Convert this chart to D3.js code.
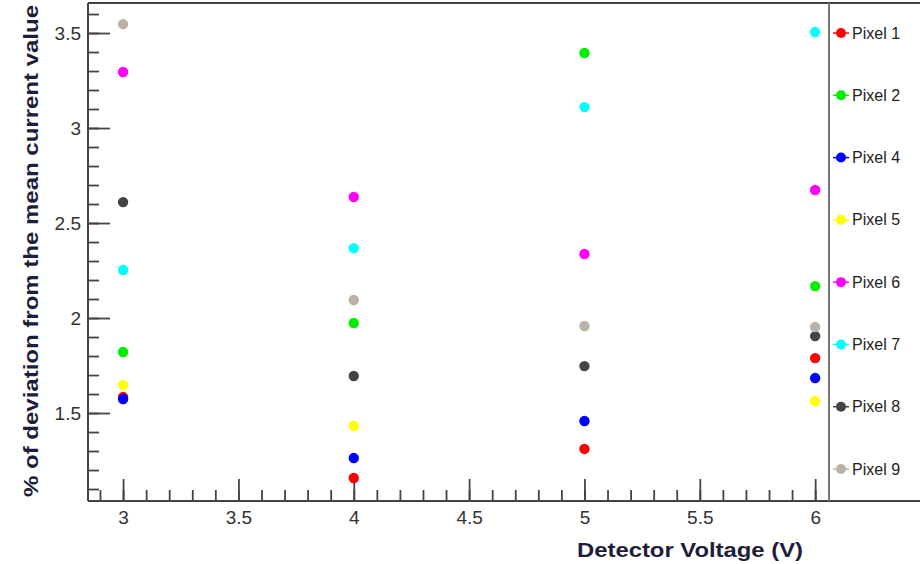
<!DOCTYPE html>
<html>
<head>
<meta charset="utf-8">
<script src="https://cdn.jsdelivr.net/npm/d3@7"></script>
<style>
  html, body { margin: 0; padding: 0; background: #fff; }
  svg { display: block; font-family: "Liberation Sans", Arial, sans-serif; }
</style>
</head>
<body>
<svg id="chart" width="920" height="564"></svg>
<script>
// Detector voltages (V) at which each pixel was measured
const voltages = [3, 4, 5, 6];

// Pixel names, in legend order
const pixels = ["Pixel 1", "Pixel 2", "Pixel 4", "Pixel 5", "Pixel 6", "Pixel 7", "Pixel 8", "Pixel 9"];

// % deviation from the mean current, one value per voltage (null = no point)
const pixel1 = [1.584, 1.158, 1.311, 1.789];
const pixel2 = [1.821, 1.974, 3.395, 2.168];
const pixel4 = [1.574, 1.263, 1.458, 1.684];
const pixel5 = [1.647, 1.432, null, 1.563];
const pixel6 = [3.295, 2.637, 2.337, 2.674];
const pixel7 = [2.253, 2.368, 3.110, 3.505];
const pixel8 = [2.610, 1.695, 1.747, 1.905];
const pixel9 = [3.547, 2.095, 1.958, 1.953];

const seriesValues = [pixel1, pixel2, pixel4, pixel5, pixel6, pixel7, pixel8, pixel9];
const seriesColors = ["#ff0000", "#00ee00", "#0000ff", "#ffff00", "#ff00ff", "#00ffff", "#444444", "#bcb1a6"];

// Axis ticks
const xMajorTicks = [3, 3.5, 4, 4.5, 5, 5.5, 6];
const yMajorTicks = [1.5, 2, 2.5, 3, 3.5];
const xMinorTicks = d3.range(29, 61).map(d => d / 10);
const yMinorTicks = d3.range(11, 37).map(d => d / 10);

const svg = d3.select("#chart");

const plot = { left: 88, right: 829, top: 3, bottom: 501 };

const x = d3.scaleLinear().domain([2.848, 6.06]).range([plot.left, plot.right]);
const y = d3.scaleLinear().domain([1.037, 3.658]).range([plot.bottom, plot.top]);

const axisColor = "#444";
const labelColor = "#333";
const titleColor = "#1e1e3c";

// Minor ticks (inside the frame)
svg.append("g")
  .attr("transform", `translate(${plot.left},0)`)
  .call(d3.axisLeft(y).tickValues(yMinorTicks).tickSize(-11).tickFormat(""))
  .call(g => g.select(".domain").remove())
  .call(g => g.selectAll("line").attr("stroke", axisColor).attr("stroke-width", 1.8));

svg.append("g")
  .attr("transform", `translate(0,${plot.bottom})`)
  .call(d3.axisBottom(x).tickValues(xMinorTicks).tickSize(-11).tickFormat(""))
  .call(g => g.select(".domain").remove())
  .call(g => g.selectAll("line").attr("stroke", axisColor).attr("stroke-width", 1.8));

// Major ticks with labels
svg.append("g")
  .attr("transform", `translate(${plot.left},0)`)
  .call(d3.axisLeft(y).tickValues(yMajorTicks).tickSize(-22).tickPadding(7).tickFormat(d3.format("")))
  .call(g => g.select(".domain").remove())
  .call(g => g.selectAll("line").attr("stroke", axisColor).attr("stroke-width", 1.8))
  .call(g => g.selectAll("text").attr("fill", labelColor).attr("font-size", 19));

svg.append("g")
  .attr("transform", `translate(0,${plot.bottom})`)
  .call(d3.axisBottom(x).tickValues(xMajorTicks).tickSize(-22).tickPadding(10).tickFormat(d3.format("")))
  .call(g => g.select(".domain").remove())
  .call(g => g.selectAll("line").attr("stroke", axisColor).attr("stroke-width", 1.8))
  .call(g => g.selectAll("text").attr("fill", labelColor).attr("font-size", 19));

// Frame: left axis, top and bottom rules across the full width, divider before the legend
const frame = svg.append("g").attr("stroke", axisColor).attr("stroke-width", 2).attr("fill", "none");
frame.append("line").attr("x1", plot.left).attr("x2", plot.left).attr("y1", plot.top).attr("y2", plot.bottom);
frame.append("line").attr("x1", plot.left).attr("x2", 920).attr("y1", plot.top).attr("y2", plot.top);
frame.append("line").attr("x1", plot.left).attr("x2", 920).attr("y1", plot.bottom).attr("y2", plot.bottom);
frame.append("line").attr("x1", plot.right).attr("x2", plot.right).attr("y1", plot.top).attr("y2", plot.bottom)
  .attr("stroke", "#777");

// Data points
const points = [];
seriesValues.forEach((vals, i) => {
  vals.forEach((v, j) => {
    if (v !== null) points.push({ series: i, x: voltages[j], y: v });
  });
});

svg.append("g")
  .selectAll("circle")
  .data(points)
  .join("circle")
  .attr("cx", d => x(d.x))
  .attr("cy", d => y(d.y))
  .attr("r", 5.2)
  .attr("fill", d => seriesColors[d.series]);

// Legend
const ly = d3.scalePoint().domain(pixels).range([33, 469]);
const legend = svg.append("g")
  .selectAll("g")
  .data(pixels)
  .join("g")
  .attr("transform", d => `translate(0,${ly(d)})`);

legend.append("line")
  .attr("x1", 833).attr("x2", 849)
  .attr("stroke", (d, i) => seriesColors[i])
  .attr("stroke-width", 1.5);
legend.append("circle")
  .attr("cx", 841).attr("r", 5)
  .attr("fill", (d, i) => seriesColors[i]);
legend.append("text")
  .attr("x", 852).attr("dy", "0.35em")
  .attr("font-size", 16)
  .attr("fill", "#222")
  .text(d => d);

// Axis titles
svg.append("text")
  .attr("x", 803).attr("y", 557)
  .attr("text-anchor", "end")
  .attr("font-size", 20).attr("font-weight", "bold")
  .attr("fill", titleColor)
  .attr("textLength", 226).attr("lengthAdjust", "spacingAndGlyphs")
  .text("Detector Voltage (V)");

svg.append("text")
  .attr("transform", "translate(38,497) rotate(-90)")
  .attr("text-anchor", "start")
  .attr("font-size", 20).attr("font-weight", "bold")
  .attr("fill", titleColor)
  .attr("textLength", 492).attr("lengthAdjust", "spacingAndGlyphs")
  .text("% of deviation from the mean current value");
</script>
</body>
</html>
